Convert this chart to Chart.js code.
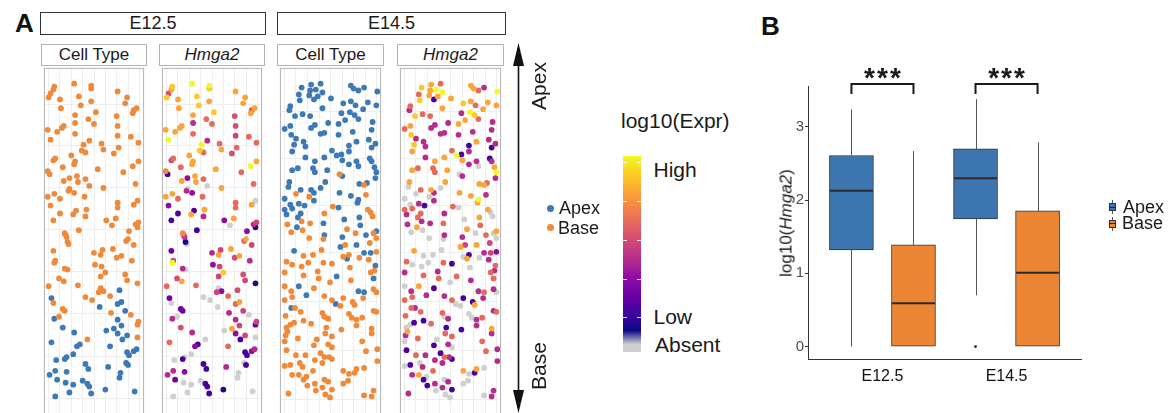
<!DOCTYPE html>
<html>
<head>
<meta charset="utf-8">
<script src="https://cdn.jsdelivr.net/npm/chart.js@4.4.1/dist/chart.umd.min.js"></script>
<style>
html,body{margin:0;padding:0;background:#fff;}
body{width:1169px;height:413px;position:relative;overflow:hidden;font-family:'Liberation Sans',Arial,Helvetica,sans-serif;color:#1a1a1a;}
.stage{position:absolute;top:12px;height:23px;box-sizing:border-box;border:1px solid #333;font-size:18px;line-height:21px;text-align:center;background:#fff;}
.facet{position:absolute;top:44px;height:22px;box-sizing:border-box;border:1px solid #b3b3b3;font-size:17px;line-height:20px;text-align:center;background:#fff;}
canvas.panel{position:absolute;top:65px;}
.t{position:absolute;white-space:nowrap;}
.rot{position:absolute;white-space:nowrap;transform:translate(-50%,-50%) rotate(-90deg);}
.dot{position:absolute;width:7px;height:7px;border-radius:50%;}
</style>
</head>
<body>
<!-- Panel letters -->
<div class="t" style="left:15px;top:10px;font-size:26px;line-height:26px;font-weight:bold;color:#111;">A</div>
<div class="t" style="left:761px;top:13px;font-size:26px;line-height:26px;font-weight:bold;color:#111;">B</div>

<!-- Stage strips -->
<div class="stage" style="left:40px;width:226px;">E12.5</div>
<div class="stage" style="left:277px;width:229px;">E14.5</div>

<!-- Facet strips -->
<div class="facet" style="left:41px;width:106px;">Cell Type</div>
<div class="facet" style="left:159px;width:106px;"><i>Hmga2</i></div>
<div class="facet" style="left:277px;width:107px;">Cell Type</div>
<div class="facet" style="left:397px;width:107px;"><i>Hmga2</i></div>

<canvas id="p1" class="panel" width="106" height="355" style="left:41px;"></canvas>
<canvas id="p2" class="panel" width="106" height="355" style="left:159px;"></canvas>
<canvas id="p3" class="panel" width="107" height="355" style="left:277px;"></canvas>
<canvas id="p4" class="panel" width="107" height="355" style="left:397px;"></canvas>

<!-- Apex/Base arrow -->
<svg style="position:absolute;left:500px;top:0;" width="40" height="413">
  <line x1="18.5" y1="60" x2="18.5" y2="395" stroke="#111" stroke-width="1.6"/>
  <polygon points="18.5,43 13,66 24,66" fill="#111"/>
  <polygon points="18.5,413 13,390 24,390" fill="#111"/>
</svg>
<div class="rot" style="left:537.5px;top:86px;font-size:21px;line-height:21px;">Apex</div>
<div class="rot" style="left:537.5px;top:366px;font-size:21px;line-height:21px;">Base</div>

<!-- Cell type legend -->
<div class="dot" style="left:546.5px;top:204.8px;background:#3D7AB5;"></div>
<div class="dot" style="left:546.5px;top:224.2px;background:#F08A3B;"></div>
<div class="t" style="left:559px;top:199.3px;font-size:18px;line-height:18px;">Apex</div>
<div class="t" style="left:558px;top:218.7px;font-size:18px;line-height:18px;">Base</div>

<!-- Expression colour bar -->
<div class="t" style="left:621px;top:109.5px;font-size:21px;line-height:21px;">log10(Expr)</div>
<div id="cbar" style="position:absolute;left:623px;top:156px;width:18px;height:196px;"></div>
<div class="t" style="left:653.5px;top:159.2px;font-size:21px;line-height:21px;">High</div>
<div class="t" style="left:653.5px;top:306.2px;font-size:21px;line-height:21px;">Low</div>
<div class="t" style="left:655px;top:334px;font-size:21px;line-height:21px;">Absent</div>

<!-- Panel B -->
<canvas id="boxB" width="409" height="413" style="position:absolute;left:760px;top:0;"></canvas>
<div class="rot" style="left:785.5px;top:222.5px;font-size:17px;line-height:17px;">log10(<i>Hmga2</i>)</div>
<div style="position:absolute;left:1112px;top:200px;width:1px;height:14px;background:#555;"></div>
<div style="position:absolute;left:1109px;top:203px;width:7px;height:8px;box-sizing:border-box;border:1px solid #333;background:#3C75AF;"></div>
<div style="position:absolute;left:1109px;top:206.5px;width:7px;height:1px;background:#222;"></div>
<div style="position:absolute;left:1112px;top:216.5px;width:1px;height:14px;background:#555;"></div>
<div style="position:absolute;left:1109px;top:219.5px;width:7px;height:8px;box-sizing:border-box;border:1px solid #333;background:#EC8634;"></div>
<div style="position:absolute;left:1109px;top:223px;width:7px;height:1px;background:#222;"></div>
<div class="t" style="left:1123px;top:197.7px;font-size:18px;line-height:18px;">Apex</div>
<div class="t" style="left:1122px;top:214.3px;font-size:18px;line-height:18px;">Base</div>

<script>
// ---------------- DATA ----------------
// Spatial cell positions (arbitrary spatial units), with log10 Hmga2 expression (0 = absent)
const e12BaseX = [11,10,7,5,32,50,50,78,88,17,37,18,39,50,86,98,95,94,33,55,77,47,53,33,78,21,19,4,14,33,78,92,7,48,42,61,100,63,79,40,44,74,12,10,29,33,32,100,20,57,94,4,6,84,35,27,21,44,36,48,63,97,27,26,32,4,11,17,43,99,78,78,7,95,34,45,17,31,44,76,66,10,72,100,97,99,37,90,22,23,24,25,26,87,89,95,10,12,11,53,62,60,73,82,77,93,54,61,65,60,86,88,22,25,16,21,36,5,99,60,63,58,70,44,51,10,20,22,16,71,92,100,99,99,46];
const e12BaseY = [336,333,329,325,339,337,334,331,325,323,326,314,317,321,319,314,312,309,307,310,306,303,298,299,296,296,294,292,290,288,286,285,282,281,277,278,279,272,274,271,269,268,263,261,266,260,257,260,254,252,255,250,247,249,245,243,240,242,239,235,233,237,232,230,228,224,227,222,224,220,218,213,215,216,210,211,207,206,204,202,200,200,195,198,196,193,190,189,187,185,183,178,176,179,181,175,169,159,157,167,170,165,171,164,162,159,155,153,147,143,145,139,151,150,141,138,134,133,136,131,128,127,123,122,119,116,110,108,102,106,104,97,94,81,79];
const e12BaseExpr = [3.0,2.7,1.8,3.0,3.4,3.4,3.0,2.7,2.7,2.7,3.0,2.7,3.0,2.7,2.7,2.7,1.8,2.7,2.7,3.0,1.8,2.1,2.1,1.4,1.8,2.7,2.7,2.7,2.7,2.1,1.7,2.1,3.4,1.4,3.4,2.1,2.1,2.7,2.1,3.0,2.1,1.8,2.1,1.7,2.7,2.7,2.7,2.7,2.1,2.7,3.4,2.4,0.4,2.1,2.7,1.0,2.7,2.1,2.7,0,2.7,2.1,0,1.4,1.0,2.7,2.7,2.1,2.1,0,2.1,2.1,1.0,2.7,0.4,2.7,0.4,2.7,1.4,2.7,1.0,0.4,0,1.7,1.4,0.1,0.4,1.0,2.4,1.7,1.4,0.1,0,2.1,2.7,1.7,0.7,1.7,3.4,1.4,1.7,2.7,2.7,2.7,1.8,1.4,1.0,1.7,3.0,1.7,1.8,1.7,1.4,0,1.8,2.7,2.1,2.1,0.1,0,1.0,1.7,2.1,0,0,0,0.7,0.7,0,1.4,0,1.7,0.7,0,0];
const e12ApexX = [8,80,59,78,82,86,11,78,82,20,32,66,74,78,88,83,8,70,38,35,88,90,95,98,87,89,13,24,22,31,44,47,68,6,12,14,24,23,31,41,46,48,50,65,27,12,81,80,96];
const e12ApexY = [121,129,112,115,117,108,100,99,93,91,86,88,90,85,83,79,76,72,74,72,66,63,67,69,55,53,58,61,59,64,54,49,51,43,47,38,46,35,33,37,34,31,24,28,25,21,45,40,26];
const e12ApexExpr = [0.7,1.8,0,2.1,2.7,1.7,1.4,1.4,1.7,1.8,1.4,0,2.7,1.0,1.7,0.4,2.1,2.1,0.4,1.0,0.4,0.4,1.0,1.4,0,0.4,0,0,0.4,0,0.4,0.4,1.4,1.4,1.4,0.7,1.0,0,0,0,0.4,0.4,0.4,0.1,0,0,0,0,0];

const e14ApexX = [23,33,43,38,45,32,20,31,36,21,40,54,75,78,89,83,103,11,10,16,24,32,45,67,75,80,65,74,79,83,88,93,102,98,5,11,12,17,15,13,25,27,33,37,43,47,51,62,69,77,62,81,97,94,101,97,73,55,65,60,73,73,81,27,37,47,66,19,13,35,37,50,95,97,100,102,83,66,48,10,9,22,33,36,43,5,5,11,13,22,20,26,36,62,63,75,83,82,84,92,101,7,19,46,68,84,85,18,47,66,91,102,64,81,15,71,89,96,101,60,99,20,28,59,83,89,12];
const e14ApexY = [335,338,339,333,330,332,328,327,323,322,326,324,337,334,335,332,331,316,312,306,308,306,314,319,321,317,309,310,307,303,313,320,317,300,293,296,287,283,277,270,280,275,294,297,288,289,299,298,302,290,287,280,292,282,278,274,276,271,267,266,270,257,260,264,260,264,261,253,251,253,249,251,263,260,254,249,255,245,239,239,234,231,231,228,233,222,211,216,212,207,217,215,220,213,228,225,221,218,237,238,243,206,203,197,201,203,195,193,185,183,185,189,173,175,169,161,167,167,154,143,141,133,124,115,128,127,111];
const e14ApexExpr = [3.0,2.7,2.1,3.4,3.4,2.7,2.1,2.7,0.4,3.0,2.7,2.7,2.7,2.7,1.4,2.1,3.4,2.1,1.4,3.0,2.1,2.1,2.7,3.0,2.7,2.1,1.4,3.4,3.0,2.1,2.7,2.7,2.7,1.4,2.1,2.7,3.0,1.4,3.0,2.7,1.4,1.4,1.4,1.4,1.4,1.4,1.4,2.7,2.7,1.4,1.4,2.7,1.4,1.4,1.4,0.4,0.4,2.1,0.4,3.4,1.4,1.4,1.4,1.4,2.7,2.7,2.7,2.1,2.7,2.1,2.1,2.7,0.4,1.4,2.7,3.4,0,1.4,2.7,2.7,0,2.1,2.7,1.4,0,0,2.1,0,2.1,2.1,1.4,0.4,1.4,0,2.7,2.7,3.4,2.7,2.7,2.1,1.4,1.4,2.1,2.1,0,2.7,2.1,2.7,1.4,1.4,2.1,2.7,2.7,2.7,2.7,2.7,1.4,1.7,2.1,2.1,2.1,2.7,1.4,0,1.4,2.1,2.1];
const e14BaseX = [63,17,31,47,56,91,93,96,98,89,23,32,71,8,12,24,31,80,99,46,102,95,69,25,35,44,67,73,84,94,102,7,13,23,30,46,55,74,100,5,25,40,41,53,75,96,5,12,13,36,47,55,64,67,77,79,88,99,102,5,16,6,22,45,47,51,73,76,81,81,87,97,97,99,102,7,11,8,6,15,25,33,49,65,48,55,19,39,36,51,55,87,103,91,5,7,17,27,43,47,52,55,37,11,5,21,24,35,45,67,73,79,81,89,103,13,20,25,28,37,47,51,55,45,29,38,48,53,67,72,89,97,99,9];
const e14BaseY = [247,227,224,207,214,226,211,208,204,236,199,197,191,196,188,190,182,187,187,181,182,177,175,164,165,170,163,165,162,160,168,158,155,153,157,157,156,152,149,147,144,148,141,137,139,147,133,128,122,131,123,119,113,121,117,114,121,130,127,119,111,103,107,106,102,100,105,101,99,93,101,90,85,108,107,91,94,87,83,96,98,95,91,89,85,82,80,79,73,74,71,77,69,67,77,68,63,63,65,61,61,59,58,53,52,55,51,47,55,47,44,45,49,50,57,43,43,38,41,34,38,36,28,30,32,27,23,20,34,37,22,21,27,24];
const e14BaseExpr = [0,0,0,1.4,2.1,1.4,2.7,0,0,2.7,1.4,1.4,2.7,1.4,0,0,0,0,0,0,0,1.7,1.7,0,0,0,0,0.4,0,1.4,1.0,2.1,0,0,0,2.1,0.4,0,1.4,1.4,2.1,1.4,2.1,0,1.4,2.1,0,1.4,2.1,0.4,1.4,2.1,0,0.4,0.4,2.7,1.4,1.4,0,2.1,1.4,2.1,2.1,2.1,0,1.4,0,0,1.4,1.4,2.1,2.7,1.4,1.4,2.1,0,0,2.7,1.4,0.4,0.4,2.1,0.4,0.4,2.1,2.1,2.1,0,0.4,1.4,0,2.1,1.4,2.1,0,0.4,2.1,1.4,0.4,2.1,1.4,0.4,1.4,0.4,0,0,1.4,2.1,1.4,2.7,0,0.4,2.7,0,1.4,1.4,2.7,0.4,0,1.4,0,1.4,0.4,1.4,0.4,0,0,0,0,0,0,1.4,1.4,1.4];

// Light grid positions of the spatial panels
const e12GridX = [5,17,29,41,53,65,77,89,101];
const e12GridY = [19,62,105,148,191,233,276,318];
const e14GridX = [5,17,29,42,53,66,78,90,102];
const e14GridY = [18,68,118,167,215,263,311];

// Panel B boxplot summary of log10(Hmga2)
const stages = ['E12.5','E14.5'];
const groups = ['Apex','Base'];
const apexLo = [0, 0.70], apexQ1 = [1.32, 1.745], apexMed = [2.13, 2.30], apexQ3 = [2.61, 2.70], apexHi = [3.24, 3.38];
const baseLo = [0, 0],    baseQ1 = [0, 0],       baseMed = [0.59, 1.01], baseQ3 = [1.39, 1.855], baseHi = [2.67, 2.79];
const apexOutliers = [[], [0]];
const baseOutliers = [[], []];
const sigLabels = ['***','***'];
const yTicksB = [0,1,2,3];

// ---------------- STYLE ----------------
const APEX_COL = '#3D7AB5', BASE_COL = '#F08A3B';
const APEX_BOX = '#3C75AF', BASE_BOX = '#EC8634';
const ABSENT_COL = '#CFCFCF';
const EXPR_MAX = 3.4;
const plasmaStops = ['#0d0887','#41049d','#6a00a8','#8f0da4','#b12a90','#cc4778','#e16462','#f2844b','#fca636','#fcce25','#f0f921'];

function hex2rgb(h){ return [parseInt(h.slice(1,3),16), parseInt(h.slice(3,5),16), parseInt(h.slice(5,7),16)]; }
function mix(a,b,f){ const A=hex2rgb(a), B=hex2rgb(b); return 'rgb('+A.map((v,i)=>Math.round(v+(B[i]-v)*f)).join(',')+')'; }
function plasma(t){ t=Math.max(0,Math.min(1,t)); const s=t*10; const i=Math.min(9,Math.floor(s)); return mix(plasmaStops[i], plasmaStops[i+1], s-i); }
function exprColor(e){ return e<=0 ? ABSENT_COL : plasma(e/EXPR_MAX); }

// Colour bar (legend)
(function(){
  const cb = document.getElementById('cbar');
  const parts = [ABSENT_COL+' 0%', ABSENT_COL+' 4%'];
  plasmaStops.forEach((c,i)=>{ parts.push(c+' '+(11+i*8.9).toFixed(1)+'%'); });
  cb.style.background = 'linear-gradient(to top,'+parts.join(',')+')';
  [5.7,45,84,122.5,160.7].forEach(y=>{
    ['0px','14px'].forEach(l=>{
      const d=document.createElement('div');
      d.style.cssText='position:absolute;left:'+l+';top:'+y+'px;width:4px;height:1px;background:rgba(255,255,255,0.85);';
      cb.appendChild(d);
    });
  });
})();

Chart.defaults.font.family = "'Liberation Sans', Arial, Helvetica, sans-serif";

const panelBorder = {
  id:'panelBorder',
  afterDatasetsDraw(chart){
    const {ctx, chartArea:a} = chart;
    ctx.save(); ctx.strokeStyle='#b3b3b3'; ctx.lineWidth=1;
    ctx.strokeRect(a.left+0.5, a.top+0.5, a.right-a.left-1, a.bottom-a.top+5);
    ctx.restore();
  }
};

function pts(xs, ys){ return xs.map((x,i)=>({x:x, y:ys[i]})); }

function spatial(id, datasets, xMax, gridX, gridY){
  return new Chart(document.getElementById(id), {
    type:'scatter',
    data:{datasets:datasets},
    options:{
      responsive:false, animation:false, events:[], devicePixelRatio:1,
      layout:{padding:0},
      plugins:{legend:{display:false}, tooltip:{enabled:false}},
      elements:{point:{radius:2.9, hoverRadius:2.9, borderWidth:0}},
      scales:{
        x:{type:'linear', min:0, max:xMax,
           afterBuildTicks:s=>{ s.ticks = gridX.map(v=>({value:v})); },
           afterFit:s=>{ s.height=0; },
           ticks:{display:false}, grid:{color:'#eeeeee', drawTicks:false}, border:{display:false}},
        y:{type:'linear', min:0, max:355,
           afterBuildTicks:s=>{ s.ticks = gridY.map(v=>({value:v})); },
           afterFit:s=>{ s.width=0; },
           ticks:{display:false}, grid:{color:'#eeeeee', drawTicks:false}, border:{display:false}}
      }
    },
    plugins:[panelBorder]
  });
}

function cellTypeSets(bx, by, ax, ay){
  return [
    {label:'Base', data:pts(bx,by), pointBackgroundColor:BASE_COL, clip:false},
    {label:'Apex', data:pts(ax,ay), pointBackgroundColor:APEX_COL, clip:false}
  ];
}
function exprSet(bx, by, be, ax, ay, ae){
  const all = pts(bx,by).map((p,i)=>({p:p, e:be[i]})).concat(pts(ax,ay).map((p,i)=>({p:p, e:ae[i]})));
  all.sort((a,b)=>a.e-b.e);
  return [{label:'Hmga2', data:all.map(o=>o.p), pointBackgroundColor:all.map(o=>exprColor(o.e)), clip:false}];
}

spatial('p1', cellTypeSets(e12BaseX,e12BaseY,e12ApexX,e12ApexY), 106, e12GridX, e12GridY);
spatial('p2', exprSet(e12BaseX,e12BaseY,e12BaseExpr,e12ApexX,e12ApexY,e12ApexExpr), 106, e12GridX, e12GridY);
spatial('p3', cellTypeSets(e14BaseX,e14BaseY,e14ApexX,e14ApexY), 107, e14GridX, e14GridY);
spatial('p4', exprSet(e14BaseX,e14BaseY,e14BaseExpr,e14ApexX,e14ApexY,e14ApexExpr), 107, e14GridX, e14GridY);

// ---------------- Panel B ----------------
const DODGE = 0.25, BOX_W = 44;
const boxSeries = [
  {off:-DODGE, lo:apexLo, q1:apexQ1, med:apexMed, q3:apexQ3, hi:apexHi},
  {off: DODGE, lo:baseLo, q1:baseQ1, med:baseMed, q3:baseQ3, hi:baseHi}
];
const SIG_Y = 3.587, SIG_LEG_Y = 3.45, STAR_Y = 3.55;

const boxExtras = {
  id:'boxExtras',
  beforeDatasetsDraw(chart){
    const {ctx, scales:{x,y}} = chart;
    ctx.save(); ctx.strokeStyle='#555'; ctx.lineWidth=1;
    boxSeries.forEach(s=>stages.forEach((st,i)=>{
      const px = Math.round(x.getPixelForValue(i+1+s.off))+0.5;
      ctx.beginPath();
      ctx.moveTo(px, y.getPixelForValue(s.hi[i])); ctx.lineTo(px, y.getPixelForValue(s.q3[i]));
      ctx.moveTo(px, y.getPixelForValue(s.q1[i])); ctx.lineTo(px, y.getPixelForValue(s.lo[i]));
      ctx.stroke();
    }));
    ctx.restore();
  },
  afterDatasetsDraw(chart){
    const {ctx, scales:{x,y}} = chart;
    ctx.save();
    ctx.strokeStyle='#2b2b2b'; ctx.lineWidth=2;
    boxSeries.forEach(s=>stages.forEach((st,i)=>{
      const px = x.getPixelForValue(i+1+s.off), py = y.getPixelForValue(s.med[i]);
      ctx.beginPath(); ctx.moveTo(px-BOX_W/2+0.5, py); ctx.lineTo(px+BOX_W/2-0.5, py); ctx.stroke();
    }));
    ctx.strokeStyle='#1a1a1a'; ctx.lineWidth=2; ctx.lineCap='butt';
    stages.forEach((st,i)=>{
      const x1 = x.getPixelForValue(i+1-DODGE), x2 = x.getPixelForValue(i+1+DODGE);
      const yt = y.getPixelForValue(SIG_Y), yb = y.getPixelForValue(SIG_LEG_Y);
      ctx.beginPath(); ctx.moveTo(x1, yb); ctx.lineTo(x1, yt); ctx.lineTo(x2, yt); ctx.lineTo(x2, yb); ctx.stroke();
      ctx.fillStyle='#1a1a1a'; ctx.font="bold 28px 'Liberation Sans', Arial, sans-serif";
      ctx.textAlign='center'; ctx.textBaseline='alphabetic';
      try { ctx.letterSpacing='2px'; } catch(e) {}
      ctx.fillText(sigLabels[i], x.getPixelForValue(i+1)+1, y.getPixelForValue(STAR_Y));
    });
    ctx.restore();
  }
};

const outlierPts = [];
stages.forEach((st,i)=>{
  apexOutliers[i].forEach(v=>outlierPts.push({x:i+1-DODGE, y:v}));
  baseOutliers[i].forEach(v=>outlierPts.push({x:i+1+DODGE, y:v}));
});

new Chart(document.getElementById('boxB'), {
  type:'bar',
  data:{datasets:[
    {label:groups[0], data:stages.map((s,i)=>({x:i+1-DODGE, y:[apexQ1[i], apexQ3[i]]})), backgroundColor:APEX_BOX, borderColor:'#333', borderWidth:1, borderSkipped:false, grouped:false, barThickness:BOX_W, maxBarThickness:BOX_W},
    {label:groups[1], data:stages.map((s,i)=>({x:i+1+DODGE, y:[baseQ1[i], baseQ3[i]]})), backgroundColor:BASE_BOX, borderColor:'#333', borderWidth:1, borderSkipped:false, grouped:false, barThickness:BOX_W, maxBarThickness:BOX_W},
    {type:'scatter', label:'outliers', data:outlierPts, pointRadius:1.4, pointHoverRadius:1.4, pointBackgroundColor:'#222', pointBorderWidth:0}
  ]},
  options:{
    responsive:false, animation:false, events:[], devicePixelRatio:1,
    layout:{padding:{top:86.7, right:88, bottom:0, left:0}},
    plugins:{legend:{display:false}, tooltip:{enabled:false}},
    scales:{
      x:{type:'linear', min:0.4, max:2.6, offset:false,
         afterBuildTicks:s=>{ s.ticks = stages.map((_,i)=>({value:i+1})); },
         afterFit:s=>{ s.height=54; },
         ticks:{callback:(v,i)=>stages[i], color:'#111', font:{size:16}, padding:0, maxRotation:0, autoSkip:false},
         grid:{display:false}, border:{display:true, color:'#333', width:1}},
      y:{type:'linear', min:-0.17, max:3.55,
         afterBuildTicks:s=>{ s.ticks = yTicksB.map(v=>({value:v})); },
         afterFit:s=>{ s.width=48; },
         ticks:{color:'#4d4d4d', font:{size:15}, padding:1},
         grid:{drawOnChartArea:false, drawTicks:true, tickLength:3, tickColor:'#333', tickWidth:1},
         border:{display:true, color:'#333', width:1}}
    }
  },
  plugins:[boxExtras]
});
</script>
</body>
</html>
